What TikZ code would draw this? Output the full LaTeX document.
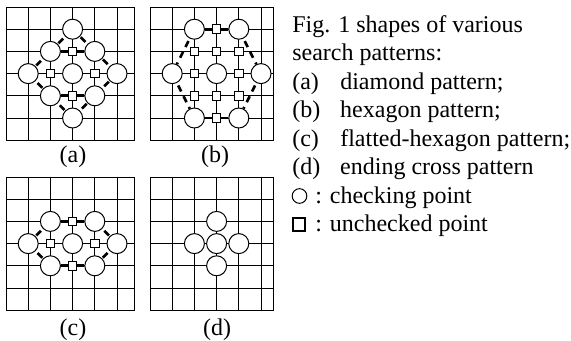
\documentclass[tikz,border=0pt]{standalone}
\usepackage{fontspec}
\setmainfont{Liberation Serif}
\newcommand\searchgrid[1]{%
  \foreach \k in {-3,...,3} \draw[gridline] (-3,\k) -- (#1,\k);
  \foreach \k in {-3,...,2} \draw[gridline] (\k,-3) -- (\k,3);
  \draw[gridline] (#1,-3) -- (#1,3);}
\begin{document}
\begin{tikzpicture}[x=0.75pt,y=-0.75pt,
  gridline/.style={line width=0.75pt},
  chk/.style={circle,draw,fill=white,line width=0.75pt,minimum size=15pt,inner sep=0pt},
  unchk/.style={rectangle,draw,fill=white,line width=0.75pt,minimum size=6.5pt,inner sep=0pt},
  edgeline/.style={line width=2pt},
  dashedge/.style={line width=2pt,dash pattern=on 5pt off 4pt,dash phase=6.9pt},
  lbl/.style={font=\fontsize{18}{21}\selectfont,inner sep=0pt},
  txt/.style={font=\fontsize{18}{21}\selectfont,anchor=base west,inner sep=0pt}]
\useasboundingbox (0,0) rectangle (571,340);
\fill[white] (0,0) rectangle (571,340);

% (a) diamond pattern
\begin{scope}[shift={(72.6,73.6)},x=16.65pt,y=-16.65pt]
  \searchgrid{2.81}
  \node[chk] (aT) at (0,-2) {};
  \node[chk] (aTL) at (-1,-1) {};
  \node[chk] (aTR) at (1,-1) {};
  \node[chk] (aL) at (-2,0) {};
  \node[chk] (aC) at (0,0) {};
  \node[chk] (aR) at (2,0) {};
  \node[chk] (aBL) at (-1,1) {};
  \node[chk] (aBR) at (1,1) {};
  \node[chk] (aB) at (0,2) {};
  \node[unchk] (aN) at (0,-1) {};
  \node[unchk] (aW) at (-1,0) {};
  \node[unchk] (aE) at (1,0) {};
  \node[unchk] (aS) at (0,1) {};
  \draw[edgeline] (aTL) -- (aN) -- (aTR);
  \draw[edgeline] (aBL) -- (aS) -- (aBR);
  \draw[dashedge] (aT) -- (aTL);
  \draw[dashedge] (aTL) -- (aL);
  \draw[dashedge] (aL) -- (aBL);
  \draw[dashedge] (aBL) -- (aB);
  \draw[dashedge] (aB) -- (aBR);
  \draw[dashedge] (aBR) -- (aR);
  \draw[dashedge] (aR) -- (aTR);
  \draw[dashedge] (aTR) -- (aT);
\end{scope}

% (b) hexagon pattern
\begin{scope}[shift={(216.6,73.6)},x=16.65pt,y=-16.65pt]
  \searchgrid{2.585}
  \node[chk] (bTL) at (-1,-2) {};
  \node[chk] (bTR) at (1,-2) {};
  \node[chk] (bL) at (-2,0) {};
  \node[chk] (bC) at (0,0) {};
  \node[chk] (bR) at (2,0) {};
  \node[chk] (bBL) at (-1,2) {};
  \node[chk] (bBR) at (1,2) {};
  \node[unchk] (bN) at (0,-2) {};
  \node[unchk] (b1) at (-1,-1) {};
  \node[unchk] (b2) at (0,-1) {};
  \node[unchk] (b3) at (1,-1) {};
  \node[unchk] (bW) at (-1,0) {};
  \node[unchk] (bE) at (1,0) {};
  \node[unchk] (b4) at (-1,1) {};
  \node[unchk] (b5) at (0,1) {};
  \node[unchk] (b6) at (1,1) {};
  \node[unchk] (bS) at (0,2) {};
  \draw[edgeline] (bTL) -- (bN) -- (bTR);
  \draw[edgeline] (bBL) -- (bS) -- (bBR);
  \draw[dashedge] (bTL) -- (bL);
  \draw[dashedge] (bL) -- (bBL);
  \draw[dashedge] (bTR) -- (bR);
  \draw[dashedge] (bR) -- (bBR);
\end{scope}

% (c) flatted-hexagon pattern
\begin{scope}[shift={(72.6,243.6)},x=16.65pt,y=-16.65pt]
  \searchgrid{2.81}
  \node[chk] (cTL) at (-1,-1) {};
  \node[chk] (cTR) at (1,-1) {};
  \node[chk] (cL) at (-2,0) {};
  \node[chk] (cC) at (0,0) {};
  \node[chk] (cR) at (2,0) {};
  \node[chk] (cBL) at (-1,1) {};
  \node[chk] (cBR) at (1,1) {};
  \node[unchk] (cN) at (0,-1) {};
  \node[unchk] (cW) at (-1,0) {};
  \node[unchk] (cE) at (1,0) {};
  \node[unchk] (cS) at (0,1) {};
  \draw[edgeline] (cTL) -- (cN) -- (cTR);
  \draw[edgeline] (cBL) -- (cS) -- (cBR);
  \draw[dashedge] (cTL) -- (cL);
  \draw[dashedge] (cL) -- (cBL);
  \draw[dashedge] (cTR) -- (cR);
  \draw[dashedge] (cR) -- (cBR);
\end{scope}

% (d) ending cross pattern
\begin{scope}[shift={(216.6,243.6)},x=16.65pt,y=-16.65pt]
  \searchgrid{2.585}
  \node[chk] (dT) at (0,-1) {};
  \node[chk] (dL) at (-1,0) {};
  \node[chk] (dC) at (0,0) {};
  \node[chk] (dR) at (1,0) {};
  \node[chk] (dB) at (0,1) {};
\end{scope}

% sub-figure labels
\node[lbl] (la) at (73,157) {(a)};
\node[lbl] (lb) at (215,157) {(b)};
\node[lbl] (lc) at (73,330) {(c)};
\node[lbl] (ld) at (217,330) {(d)};

% caption and legend
\node[txt] (t1) at (292,32) {Fig. 1 shapes of various};
\node[txt] (t2) at (292,60.5) {search patterns:};
\node[txt] (t3) at (292,89) {\makebox[36pt][l]{(a)}diamond pattern;};
\node[txt] (t4) at (292,117.5) {\makebox[36pt][l]{(b)}hexagon pattern;};
\node[txt] (t5) at (292,146) {\makebox[36pt][l]{(c)}flatted-hexagon pattern;};
\node[txt] (t6) at (292,174.5) {\makebox[36pt][l]{(d)}ending cross pattern};
\node[circle,draw,line width=0.75pt,minimum size=11pt,inner sep=0pt] (kc) at (299.5,196) {};
\node[txt] (t7) at (315,203) {: checking point};
\node[rectangle,draw,line width=1.4pt,minimum size=9.5pt,inner sep=0pt] (ks) at (299,224.5) {};
\node[txt] (t8) at (315,231.5) {: unchecked point};
\end{tikzpicture}
\end{document}
